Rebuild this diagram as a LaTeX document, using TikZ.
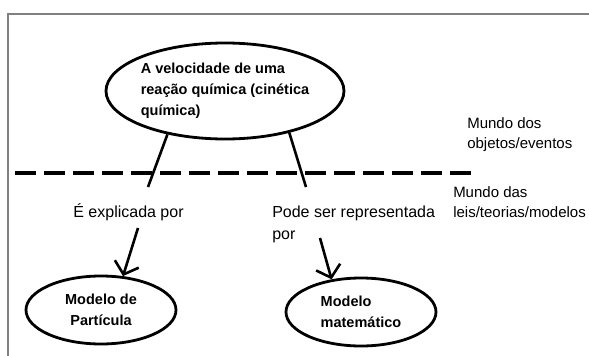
\documentclass[tikz,border=0pt]{standalone}
\usepackage{fontspec}
\setmainfont{Liberation Sans}
\usetikzlibrary{arrows.meta,shapes.geometric}
\tikzset{
    >={Straight Barb[length=11pt,width=25pt]},
    every picture/.style={line width=0.5pt},
    bubble/.style={ellipse,draw,line width=2.8pt,inner sep=0pt,align=center,
        font=\bfseries\fontsize{14.5}{21}\selectfont},
    word/.style={inner sep=0pt,font=\fontsize{16}{22}\selectfont},
    world/.style={inner sep=0pt,align=left,font=\fontsize{15}{20}\selectfont},
    link/.style={line width=2.6pt}
}

\begin{document}
\begin{tikzpicture}[x=1pt,y=-1pt]
    \useasboundingbox (0,0) rectangle (589,356);

    % frame
    \draw[line width=2pt,black!50] (8,356) -- (8,14) -- (589,14);

    % concepts
    \node[bubble,align=left,minimum width=238pt,minimum height=96pt,inner xsep=-4pt] (rate) at (225,91)
        {A velocidade de uma\\reação química (cinética\\química)};
    \node[bubble,minimum width=150pt,minimum height=68pt] (particle) at (101,310) {Modelo de\\Partícula};
    \node[bubble,align=left,minimum width=150pt,minimum height=68pt] (mathmod) at (361,312) {Modelo\\matemático};

    % divider
    \draw[line width=4pt,dash pattern=on 21pt off 8pt] (15,173) -- (477,173);

    % worlds
    \node[world,anchor=west] (objects) at (467,135) {Mundo dos\\objetos/eventos};
    \node[world,anchor=west] (laws) at (453,202) {Mundo das\\leis/teorias/modelos};

    % links
    \node[word] (explained) at (128.5,212) {É explicada por};
    \node[word,align=left,anchor=west] (shown) at (272,224) {Pode ser representada\\por};
    \coordinate (lfoot) at (148,187);
    \coordinate (rfoot) at (306,187);
    \coordinate (ltail) at (138,228);
    \coordinate (rtail) at (320,238);
    \draw[link] (rate.217) -- (lfoot);
    \draw[link] (rate.327) -- (rfoot);
    \draw[link,->] (ltail) -- (particle.57);
    \draw[link,->] (rtail) -- (mathmod.132);
\end{tikzpicture}
\end{document}
